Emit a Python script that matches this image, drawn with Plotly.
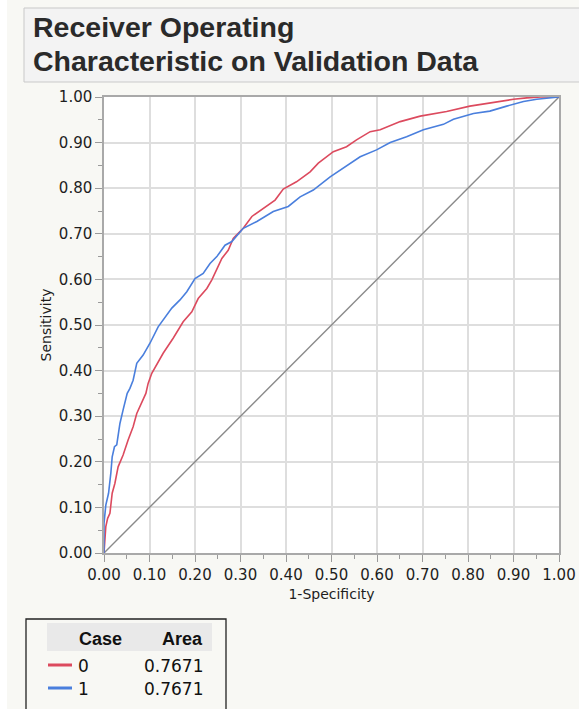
import plotly.graph_objects as go

# ROC curve points (1-Specificity, Sensitivity) for each case
fpr_case0 = [0.000, 0.004, 0.008, 0.013, 0.018, 0.024, 0.031, 0.042, 0.053, 0.064,
             0.072, 0.083, 0.092, 0.097, 0.105, 0.130, 0.152, 0.174, 0.193, 0.207,
             0.226, 0.237, 0.248, 0.259, 0.273, 0.284, 0.295, 0.306, 0.325, 0.350,
             0.376, 0.394, 0.423, 0.453, 0.471, 0.504, 0.533, 0.555, 0.585, 0.607,
             0.651, 0.695, 0.753, 0.804, 0.848, 0.900, 0.929, 0.960, 1.000]
tpr_case0 = [0.000, 0.058, 0.076, 0.087, 0.131, 0.153, 0.189, 0.215, 0.248, 0.277,
             0.306, 0.332, 0.350, 0.372, 0.394, 0.438, 0.471, 0.507, 0.529, 0.558,
             0.580, 0.599, 0.624, 0.646, 0.664, 0.690, 0.701, 0.712, 0.738, 0.756,
             0.774, 0.798, 0.814, 0.836, 0.855, 0.880, 0.891, 0.906, 0.924, 0.928,
             0.946, 0.958, 0.968, 0.980, 0.987, 0.995, 0.998, 1.000, 1.000]

fpr_case1 = [0.000, 0.000, 0.004, 0.010, 0.015, 0.018, 0.023, 0.028, 0.035, 0.039,
             0.042, 0.051, 0.057, 0.064, 0.072, 0.086, 0.101, 0.119, 0.130, 0.149,
             0.167, 0.182, 0.200, 0.218, 0.233, 0.248, 0.266, 0.281, 0.306, 0.336,
             0.372, 0.405, 0.431, 0.460, 0.497, 0.530, 0.563, 0.599, 0.629, 0.665,
             0.702, 0.746, 0.768, 0.812, 0.848, 0.885, 0.922, 0.951, 1.000]
tpr_case1 = [0.000, 0.065, 0.105, 0.131, 0.175, 0.211, 0.233, 0.237, 0.284, 0.306,
             0.314, 0.350, 0.361, 0.379, 0.416, 0.434, 0.460, 0.496, 0.511, 0.537,
             0.555, 0.573, 0.602, 0.613, 0.635, 0.650, 0.675, 0.683, 0.712, 0.727,
             0.749, 0.760, 0.781, 0.796, 0.825, 0.847, 0.869, 0.884, 0.900, 0.913,
             0.928, 0.940, 0.951, 0.964, 0.969, 0.980, 0.990, 0.995, 1.000]

cases = ["0", "1"]
areas = ["0.7671", "0.7671"]
case_colors = ["#dc4a5e", "#4a7fdd"]

diag_x = [0, 1]
diag_y = [0, 1]

W, H = 579, 709
L, R, T, B = 104, 20, 97, 156
PW, PH = W - L - R, H - T - B


def px(x):
    return (x - L) / PW


def py(y):
    return (H - B - y) / PH


fig = go.Figure()
fig.add_trace(go.Scatter(x=diag_x, y=diag_y, mode="lines",
                         line=dict(color="#8a8a8a", width=1.4),
                         hoverinfo="skip", showlegend=False))
fig.add_trace(go.Scatter(x=fpr_case0, y=tpr_case0, mode="lines", name=cases[0],
                         line=dict(color=case_colors[0], width=1.6), showlegend=False))
fig.add_trace(go.Scatter(x=fpr_case1, y=tpr_case1, mode="lines", name=cases[1],
                         line=dict(color=case_colors[1], width=1.6), showlegend=False))

axis_common = dict(
    range=[0, 1], dtick=0.1, tick0=0, tickformat=".2f",
    ticks="outside", ticklen=7, tickwidth=1, tickcolor="#9a9a9a",
    minor=dict(dtick=0.05, ticks="outside", ticklen=4, tickcolor="#9a9a9a", showgrid=False),
    showgrid=True, gridcolor="#dedede", gridwidth=1.5,
    showline=True, linecolor="#a9a9a9", linewidth=1.5, mirror=True,
    zeroline=False, fixedrange=True,
    tickfont=dict(family="DejaVu Sans", size=15, color="#1e1e1e"),
)

fig.update_layout(
    width=W, height=H,
    margin=dict(l=L, r=R, t=T, b=B, autoexpand=False),
    paper_bgcolor="#f8f8f4", plot_bgcolor="#ffffff",
    xaxis=dict(**axis_common,
               title=dict(text="1-Specificity", standoff=6,
                          font=dict(family="DejaVu Sans", size=14, color="#1e1e1e"))),
    yaxis=dict(**axis_common,
               title=dict(text="Sensitivity", standoff=4,
                          font=dict(family="DejaVu Sans", size=14, color="#1e1e1e"))),
)

shapes = [
    # white strip along the left edge of the page
    dict(type="rect", xref="paper", yref="paper", x0=px(0), x1=px(7), y0=py(H), y1=py(0),
         fillcolor="#ffffff", line=dict(width=0), layer="below"),
    # title panel
    dict(type="rect", xref="paper", yref="paper", x0=px(24), x1=px(W + 10), y0=py(82), y1=py(8),
         fillcolor="#f3f3f3", line=dict(color="#c9c9c9", width=1)),
    # legend table frame
    dict(type="rect", xref="paper", yref="paper", x0=px(26), x1=px(226), y0=py(H + 5), y1=py(619),
         fillcolor="#f8f8f4", line=dict(color="#222222", width=1.3)),
    # legend header band
    dict(type="rect", xref="paper", yref="paper", x0=px(47), x1=px(212), y0=py(651), y1=py(623),
         fillcolor="#e9e9e9", line=dict(width=0)),
]
row_mid = [666, 689]
for i, c in enumerate(case_colors):
    shapes.append(dict(type="line", xref="paper", yref="paper",
                       x0=px(48), x1=px(72), y0=py(row_mid[i] - 1), y1=py(row_mid[i] - 1),
                       line=dict(color=c, width=3)))
fig.update_layout(shapes=shapes)

ann = []
title_font = dict(family="Liberation Sans", size=28.5, color="#2a2a2a")
for txt, ymid in [("<b>Receiver Operating</b>", 27), ("<b>Characteristic on Validation Data</b>", 61)]:
    ann.append(dict(text=txt, xref="paper", yref="paper", x=px(31), y=py(ymid),
                    xanchor="left", yanchor="middle", showarrow=False, font=title_font))

head_font = dict(family="Liberation Sans", size=18, color="#111111")
ann.append(dict(text="<b>Case</b>", xref="paper", yref="paper", x=px(124), y=py(639),
                xanchor="right", yanchor="middle", showarrow=False, font=head_font))
ann.append(dict(text="<b>Area</b>", xref="paper", yref="paper", x=px(205), y=py(639),
                xanchor="right", yanchor="middle", showarrow=False, font=head_font))
cell_font = dict(family="DejaVu Sans", size=17, color="#111111")
for i in range(len(cases)):
    ann.append(dict(text=cases[i], xref="paper", yref="paper", x=px(76), y=py(row_mid[i]),
                    xanchor="left", yanchor="middle", showarrow=False, font=cell_font))
    ann.append(dict(text=areas[i], xref="paper", yref="paper", x=px(205), y=py(row_mid[i]),
                    xanchor="right", yanchor="middle", showarrow=False, font=cell_font))
fig.update_layout(annotations=ann)

fig.write_html("out.html")
